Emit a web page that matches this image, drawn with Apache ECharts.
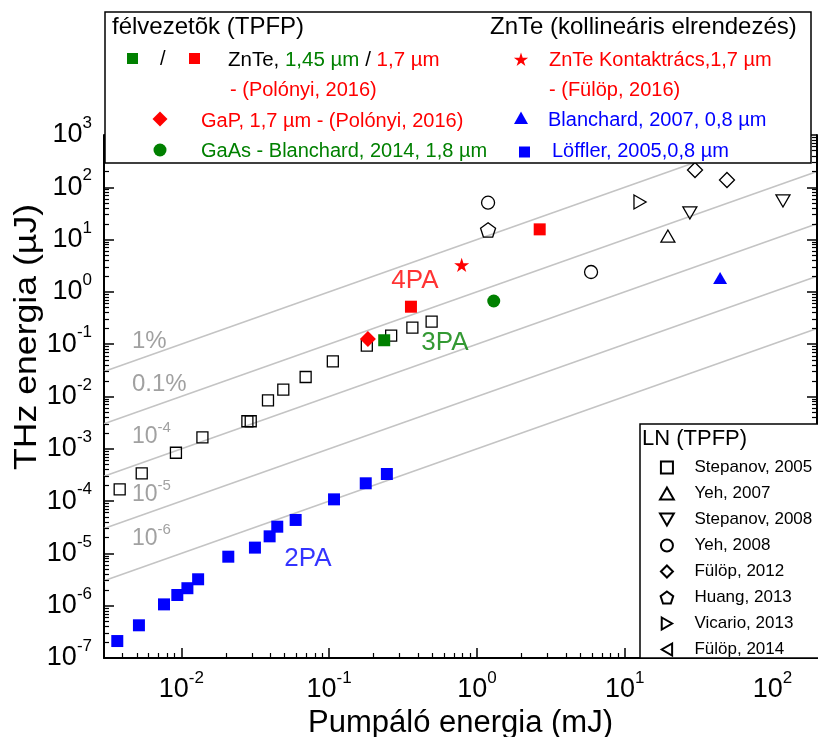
<!DOCTYPE html>
<html>
<head>
<meta charset="utf-8">
<script src="https://cdn.jsdelivr.net/npm/echarts@6/dist/echarts.min.js"></script>
<style>
  html, body { margin: 0; padding: 0; background: #fff; }
  #chart { width: 818px; height: 737px; }
</style>
</head>
<body>
<div id="chart"></div>
<script>
const FONT = '"Liberation Sans", Arial, Helvetica, sans-serif';

// ---- axes ----
const xRange = [0.003, 200];          // pump energy, mJ
const yRange = [1e-7, 1000];          // THz energy, µJ
const xMajorTicks = [0.01, 0.1, 1, 10, 100];
const yMajorTicks = [1e-7, 1e-6, 1e-5, 1e-4, 1e-3, 1e-2, 1e-1, 1, 10, 100, 1000];

// ---- constant conversion-efficiency guide lines ----
const efficiencies = [1e-2, 1e-3, 1e-4, 1e-5, 1e-6];
const efficiencyLabels = ['1%', '0.1%', '10^-4', '10^-5', '10^-6'];
const efficiencyLabelY = [0.115, 0.0173, 0.00168, 1.31e-4, 1.88e-5];
const efficiencyLabelX = 0.0046;

// ---- LN, tilted pulse front ----
const stepanov2005 = [
  [0.00383, 1.68e-4], [0.0054, 3.4e-4], [0.0092, 8.4e-4], [0.0139, 1.66e-3],
  [0.028, 3.36e-3], [0.0295, 3.36e-3], [0.0386, 8.45e-3], [0.049, 0.0135],
  [0.0694, 0.0236], [0.106, 0.0471], [0.18, 0.0936], [0.263, 0.146],
  [0.366, 0.207], [0.494, 0.269]
];
const yeh2007 = [[19.6, 11.7]];
const stepanov2008 = [[27.6, 32.3], [117.7, 54.7]];
const yeh2008 = [[1.19, 50.8], [5.92, 2.4]];
const fulop2012 = [[29.9, 214], [49.2, 138]];
const huang2013 = [[1.19, 15.3]];
const vicario2013 = [[12.7, 52.4]];
const fulop2014 = [];

// ---- semiconductors ----
const znte145 = [[0.236, 0.119]];
const znte17 = [[0.358, 0.521], [2.66, 15.7]];
const gap17 = [[0.183, 0.126]];
const gaas18 = [[1.3, 0.67]];
const znteContact = [[0.789, 3.27]];
const blanchard2007 = [[44.2, 1.84]];
const loffler2005 = [
  [0.00369, 2.11e-7], [0.00517, 4.22e-7], [0.00764, 1.06e-6], [0.0094, 1.6e-6],
  [0.011, 2.16e-6], [0.013, 3.2e-6], [0.0208, 8.65e-6], [0.0315, 1.29e-5],
  [0.0396, 2.12e-5], [0.0446, 3.24e-5], [0.0594, 4.36e-5], [0.108, 1.08e-4],
  [0.177, 2.19e-4], [0.246, 3.3e-4]
];

// ---- in-plot process labels ----
const processLabels = ['4PA', '3PA', '2PA'];
const processLabelPos = [[0.381, 1.61], [0.608, 0.105], [0.0719, 7.8e-6]];
const processLabelColors = ['#ff0000', '#008000', '#0000ff'];

// ---- symbols (paths so that legend icons keep their aspect) ----
const SYM = {
  square: 'path://M0,0L10,0L10,10L0,10Z',
  triUp: 'path://M5,0L10,8.66L0,8.66Z',
  triDown: 'path://M0,0L10,0L5,8.66Z',
  triRight: 'path://M0,0L8.66,5L0,10Z',
  triLeft: 'path://M8.66,0L0,5L8.66,10Z',
  diamond: 'path://M5,0L10,5L5,10L0,5Z',
  pentagon: 'path://M10,0L19.51,6.91L15.88,18.09L4.12,18.09L0.49,6.91Z',
  star: 'path://M10,0L12.245,6.91L19.511,6.91L13.633,11.18L15.878,18.09L10,13.82L4.122,18.09L6.367,11.18L0.489,6.91L7.755,6.91Z'
};

function minorTicks(lo, hi) {
  const out = [];
  for (let e = Math.floor(Math.log10(lo)); e <= Math.ceil(Math.log10(hi)); e++) {
    for (let m = 2; m <= 9; m++) {
      const v = parseFloat((m * Math.pow(10, e)).toPrecision(6));
      if (v > lo * 1.0001 && v < hi * 0.9999) out.push(v);
    }
  }
  return out;
}
const xMinorTicks = minorTicks(xRange[0], xRange[1]);
const yMinorTicks = minorTicks(yRange[0], yRange[1]);

const powLabel = v => '{b|10}{s|' + Math.round(Math.log10(v)) + '}';
const tickRich = {
  b: { fontSize: 27, fontFamily: FONT, color: '#000', lineHeight: 40 },
  s: { fontSize: 17, fontFamily: FONT, color: '#000', lineHeight: 17, verticalAlign: 'top' }
};

const AXIS_LINE = { show: true, onZero: false, lineStyle: { color: '#000', width: 2 } };
function logAxis(range, position, opts) {
  return Object.assign({
    type: 'log', logBase: 10, min: range[0], max: range[1], position: position,
    axisLine: { show: false }, axisTick: { show: false },
    splitLine: { show: false }, axisLabel: { show: false }
  }, opts);
}
// tick-only axes sit on their own canvas layer, above the plot content
const majorTickAxis = (range, position, vals, line) => logAxis(range, position, {
  zlevel: 1, z: 0, axisLine: line ? AXIS_LINE : { show: false },
  axisTick: { show: true, inside: true, length: 10, customValues: vals, lineStyle: { color: '#000', width: 1.5 } }
});
const minorTickAxis = (range, position, vals) => logAxis(range, position, {
  zlevel: 1, z: 0,
  axisTick: { show: true, inside: true, length: 5, customValues: vals, lineStyle: { color: '#000', width: 1.2 } }
});

const xAxes = [
  logAxis(xRange, 'bottom', {
    axisLine: AXIS_LINE,
    axisLabel: { show: true, customValues: xMajorTicks, formatter: powLabel, margin: 12, rich: tickRich },
    name: 'Pumpáló energia (mJ)', nameLocation: 'middle', nameGap: 42,
    nameTextStyle: { fontSize: 31, fontFamily: FONT, color: '#000' }
  }),
  majorTickAxis(xRange, 'bottom', xMajorTicks, false),
  minorTickAxis(xRange, 'bottom', xMinorTicks)
];
const yAxes = [
  logAxis(yRange, 'left', {
    axisLine: AXIS_LINE,
    axisLabel: { show: true, customValues: yMajorTicks, formatter: powLabel, margin: 12, rich: tickRich }
  }),
  majorTickAxis(yRange, 'left', yMajorTicks, false),
  minorTickAxis(yRange, 'left', yMinorTicks),
  majorTickAxis(yRange, 'right', yMajorTicks, true),
  minorTickAxis(yRange, 'right', yMinorTicks)
];

// guide lines: THz energy (µJ) = efficiency * pump energy (mJ) * 1000
const guideSeries = efficiencies.map(eff => ({
  type: 'line', silent: true, symbol: 'none', z: 1, clip: true,
  lineStyle: { color: '#c4c4c4', width: 1.6 },
  data: [[xRange[0], eff * xRange[0] * 1000], [xRange[1], eff * xRange[1] * 1000]]
}));

const guideLabelRich = {
  p: { fontSize: 24, fontFamily: FONT, color: '#8a8a8a' },
  b: { fontSize: 23, fontFamily: FONT, color: '#8a8a8a', lineHeight: 34 },
  s: { fontSize: 15, fontFamily: FONT, color: '#8a8a8a', lineHeight: 15, verticalAlign: 'top' }
};
const guideLabelSeries = {
  type: 'scatter', silent: true, z: 3, symbolSize: 1,
  itemStyle: { color: 'rgba(0,0,0,0)' },
  label: {
    show: true, position: 'right', distance: 0, rich: guideLabelRich,
    formatter: p => p.name.indexOf('^') >= 0
      ? '{b|10}{s|' + p.name.split('^')[1] + '}'
      : '{p|' + p.name + '}'
  },
  data: efficiencyLabels.map((t, i) => ({ name: t, value: [efficiencyLabelX, efficiencyLabelY[i]] }))
};

const processLabelSeries = {
  type: 'scatter', silent: true, z: 3, symbolSize: 1,
  itemStyle: { color: 'rgba(0,0,0,0)' },
  label: { show: true, position: 'inside', fontSize: 26, fontFamily: FONT, formatter: p => p.name },
  data: processLabels.map((t, i) => ({
    name: t, value: processLabelPos[i], label: { color: processLabelColors[i] }
  }))
};

function openSeries(name, data, symbol, size) {
  return {
    name: name, type: 'scatter', data: data, symbol: symbol, symbolSize: size, symbolKeepAspect: true,
    z: 2, silent: true,
    itemStyle: { color: 'rgba(0,0,0,0)', borderColor: '#000', borderWidth: 1.3, opacity: 1 }
  };
}
function filledSeries(name, data, symbol, size, color) {
  return {
    name: name, type: 'scatter', data: data, symbol: symbol, symbolSize: size, symbolKeepAspect: true,
    z: 4, silent: true, itemStyle: { color: color, opacity: 1 }
  };
}

const lnNames = ['Stepanov, 2005', 'Yeh, 2007', 'Stepanov, 2008', 'Yeh, 2008',
  'Fülöp, 2012', 'Huang, 2013', 'Vicario, 2013', 'Fülöp, 2014'];

const dataSeries = [
  openSeries(lnNames[0], stepanov2005, SYM.square, 11),
  openSeries(lnNames[1], yeh2007, SYM.triUp, 14),
  openSeries(lnNames[2], stepanov2008, SYM.triDown, 14),
  openSeries(lnNames[3], yeh2008, 'circle', 13),
  openSeries(lnNames[4], fulop2012, SYM.diamond, 15),
  openSeries(lnNames[5], huang2013, SYM.pentagon, 15),
  openSeries(lnNames[6], vicario2013, SYM.triRight, 14),
  openSeries(lnNames[7], fulop2014, SYM.triLeft, 14),
  filledSeries('ZnTe 1,45 µm', znte145, SYM.square, 12, '#008000'),
  filledSeries('ZnTe 1,7 µm', znte17, SYM.square, 12, '#ff0000'),
  filledSeries('GaP 1,7 µm', gap17, SYM.diamond, 16, '#ff0000'),
  filledSeries('GaAs 1,8 µm', gaas18, 'circle', 13, '#008000'),
  filledSeries('ZnTe Kontaktrács', znteContact, SYM.star, 15, '#ff0000'),
  filledSeries('Blanchard, 2007', blanchard2007, SYM.triUp, 14, '#0000ff'),
  filledSeries('Löffler, 2005', loffler2005, SYM.square, 12, '#0000ff')
];

// ---- legend boxes (same layer as the ticks, drawn over them) ----
const txt = (x, y, text, size, color, extra) => Object.assign({
  type: 'text', zlevel: 1, z: 20, x: x, y: y,
  style: { text: text, font: size + 'px ' + FONT, fill: color, textAlign: 'left', textVerticalAlign: 'middle' }
}, extra || {});
function starPoints(cx, cy, r) {
  const pts = [];
  for (let i = 0; i < 10; i++) {
    const a = -Math.PI / 2 + i * Math.PI / 5;
    const rr = i % 2 ? r * 0.382 : r;
    pts.push([cx + rr * Math.cos(a), cy + rr * Math.sin(a)]);
  }
  return pts;
}
const RED = '#ff0000', GREEN = '#008000', BLUE = '#0000ff';
const graphics = [
  { type: 'rect', zlevel: 1, z: 19, shape: { x: 105, y: 12, width: 706, height: 151 },
    style: { fill: '#fff', stroke: '#000', lineWidth: 1.5 } },
  { type: 'rect', zlevel: 1, z: 19, shape: { x: 640, y: 424, width: 200, height: 234 },
    style: { fill: '#fff', stroke: '#000', lineWidth: 1.5 } },

  txt(112, 27, 'félvezetõk (TPFP)', 24, '#000'),
  txt(490, 27, 'ZnTe (kollineáris elrendezés)', 24, '#000'),

  { type: 'rect', zlevel: 1, z: 20, shape: { x: 127, y: 53, width: 11, height: 11 }, style: { fill: GREEN } },
  txt(160, 59, '/', 20, '#000'),
  { type: 'rect', zlevel: 1, z: 20, shape: { x: 189, y: 53, width: 11, height: 11 }, style: { fill: RED } },
  { type: 'text', zlevel: 1, z: 20, x: 228, y: 60, style: {
      text: '{k|ZnTe, }{g|1,45 µm}{k| / }{r|1,7 µm}', font: '20.5px ' + FONT,
      textAlign: 'left', textVerticalAlign: 'middle',
      rich: { k: { fill: '#000', font: '20.5px ' + FONT }, g: { fill: GREEN, font: '20.5px ' + FONT }, r: { fill: RED, font: '20.5px ' + FONT } }
  } },
  txt(230, 90, '- (Polónyi, 2016)', 20, RED),

  { type: 'polygon', zlevel: 1, z: 20, shape: { points: [[160, 111.5], [167.5, 119], [160, 126.5], [152.5, 119]] }, style: { fill: RED } },
  txt(201, 121, 'GaP, 1,7 µm - (Polónyi, 2016)', 20, RED),
  { type: 'circle', zlevel: 1, z: 20, shape: { cx: 160, cy: 150, r: 6.5 }, style: { fill: GREEN } },
  txt(201, 151, 'GaAs - Blanchard, 2014, 1,8 µm', 20, GREEN),

  { type: 'polygon', zlevel: 1, z: 20, shape: { points: starPoints(521, 60, 7.5) }, style: { fill: RED } },
  txt(549, 60, 'ZnTe Kontaktrács,1,7 µm', 20, RED),
  txt(549, 90, '- (Fülöp, 2016)', 20, RED),
  { type: 'polygon', zlevel: 1, z: 20, shape: { points: [[521, 111.5], [528, 124], [514, 124]] }, style: { fill: BLUE } },
  txt(548, 120, 'Blanchard, 2007, 0,8 µm', 20, BLUE),
  { type: 'rect', zlevel: 1, z: 20, shape: { x: 519, y: 146.5, width: 11, height: 11 }, style: { fill: BLUE } },
  txt(552, 151, 'Löffler, 2005,0,8 µm', 20, BLUE),

  txt(642, 439, 'LN (TPFP)', 22, '#000'),

  // y axis title
  { type: 'text', zlevel: 1, z: 20, x: 27, y: 337, rotation: Math.PI / 2, scaleX: 1.15,
    style: { text: 'THz energia (µJ)', font: '31px ' + FONT, fill: '#000', textAlign: 'center', textVerticalAlign: 'middle' } }
];

const chart = echarts.init(document.getElementById('chart'), null, { renderer: 'canvas' });
chart.setOption({
  animation: false,
  backgroundColor: '#fff',
  textStyle: { fontFamily: FONT },
  grid: { left: 104, top: 135, right: 1, bottom: 79, containLabel: false, outerBoundsMode: 'none' },
  xAxis: xAxes,
  yAxis: yAxes,
  legend: {
    data: lnNames, orient: 'vertical', left: 659, top: 459, padding: 0,
    itemWidth: 45, itemHeight: 12, itemGap: 9, selectedMode: false, zlevel: 1, z: 21,
    textStyle: { fontSize: 17, fontFamily: FONT, color: '#000' }
  },
  series: guideSeries.concat([guideLabelSeries, processLabelSeries], dataSeries),
  graphic: { elements: graphics }
});
</script>
</body>
</html>
